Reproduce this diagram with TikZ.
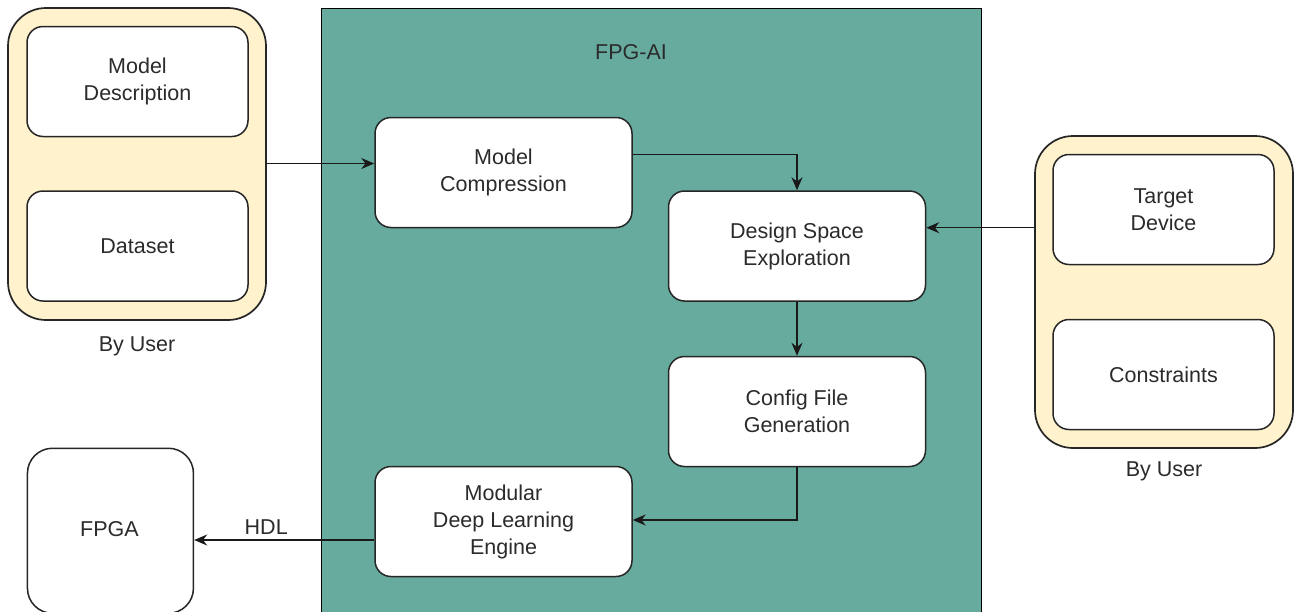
\documentclass[tikz,border=0pt]{standalone}
\usepackage{fontspec}
\setmainfont{Liberation Sans}
\usetikzlibrary{arrows.meta}
\definecolor{tealfill}{HTML}{67AB9F}
\definecolor{yellowfill}{HTML}{FFF2CC}
\definecolor{txt}{HTML}{2B2B2B}
\tikzset{
  base/.style={font=\fontsize{21.5}{27}\selectfont, text=txt, align=center},
  box/.style={base, rectangle, draw=black!85, line width=1.5pt, fill=white, rounded corners=16pt, minimum width=221pt, minimum height=110pt, inner sep=0pt},
  cont/.style={rectangle, draw=black!85, line width=1.7pt, fill=yellowfill, rounded corners=38pt, minimum width=258pt, minimum height=312pt, inner sep=0pt},
  conn/.style={line width=1.5pt, draw=black!90, -{Stealth[length=13pt,width=11pt]}},
  lbl/.style={base}
}
\begin{document}
\begin{tikzpicture}[x=1pt,y=-1pt]
\clip (0,0) rectangle (1294,611);
\fill[white] (0,0) rectangle (1294,611);
% FPG-AI frame
\node[rectangle, draw=black, line width=1.7pt, fill=tealfill, minimum width=660pt, minimum height=640pt, inner sep=0pt, anchor=north west] (fpgai) at (320.5,7.5) {};
\node[lbl] (fpgailbl) at (631,52) {FPG-AI};
% left container
\node[cont] (lc) at (137,164) {};
\node[box] (md) at (137.5,81.5) {Model\\Description};
\node[box] (ds) at (137.5,246) {Dataset};
\node[lbl] (lby) at (137,346) {By User};
% right container
\node[cont] (rc) at (1164,292) {};
\node[box] (td) at (1163.5,209.5) {Target\\Device};
\node[box] (cs) at (1163.5,374.5) {Constraints};
\node[lbl] (rby) at (1164,471) {By User};
% inner boxes
\node[box, minimum width=257pt, minimum height=110pt] (mc) at (503.5,172.5) {Model\\Compression};
\node[box, minimum width=257pt, minimum height=110pt] (dse) at (797,246) {Design Space\\Exploration};
\node[box, minimum width=257pt, minimum height=110pt] (cfg) at (797,411.5) {Config File\\Generation};
\node[box, minimum width=257pt, minimum height=110pt] (mdle) at (503.5,521.5) {Modular\\Deep Learning\\Engine};
\node[box, rounded corners=25pt, minimum width=166pt, minimum height=165pt, anchor=north west] (fpga) at (26.7,447.5) {};
\node[lbl] (fpgalbl) at (109.5,529) {FPGA};
% connectors
\draw[conn] (lc.east |- 0,163.5) -- (mc.west |- 0,163.5);
\draw[conn] (mc.east |- 0,154.3) -| (dse.north);
\draw[conn] (rc.west |- 0,227.7) -- (dse.east |- 0,227.7);
\draw[conn] (dse.south) -- (cfg.north);
\draw[conn] (cfg.south) |- (mdle.east |- 0,520);
\draw[conn] (mdle.west |- 0,540) -- (fpga.east |- 0,540) node[lbl, pos=0.6, above=1pt] (hdl) {HDL};
\end{tikzpicture}
\end{document}
